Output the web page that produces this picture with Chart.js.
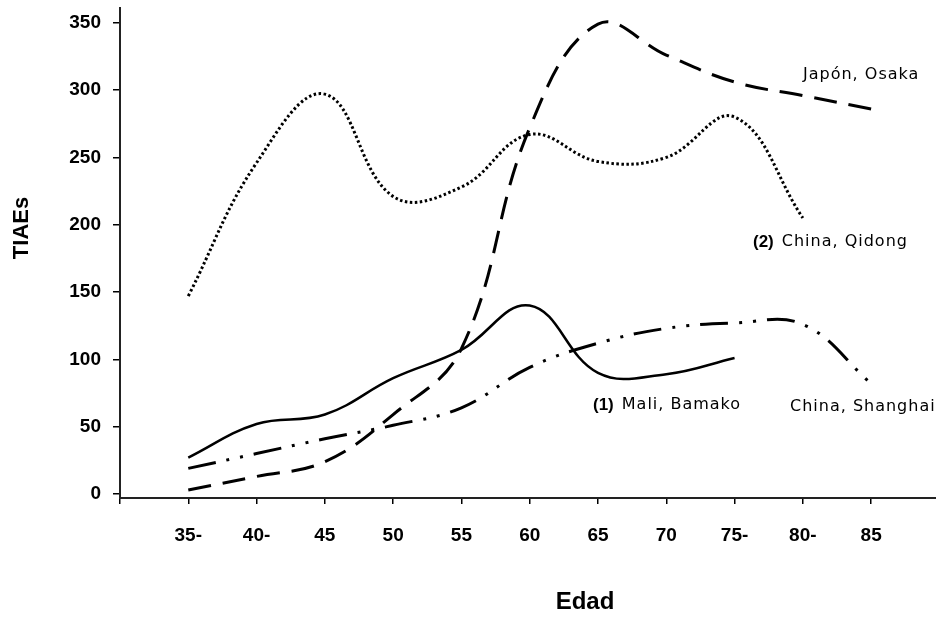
<!DOCTYPE html>
<html>
<head>
<meta charset="utf-8">
<script src="https://cdn.jsdelivr.net/npm/chart.js@4.4.0/dist/chart.umd.min.js"></script>
<style>
html, body { margin:0; padding:0; background:#fff; }
#wrap { position:relative; width:936px; height:619px; }
</style>
</head>
<body>
<div id="wrap"><canvas id="myChart"></canvas></div>
<script>
var ages = ["35-","40-","45","50","55","60","65","70","75-","80-","85"];
var mali = [27, 52, 59, 86, 107, 140, 90, 89, 101];
var osaka = [3, 13, 24, 59, 108, 272, 349, 326, 306, 296, 286];
var qidong = [147, 246, 297, 221, 228, 267, 247, 250, 280, 205];
var shanghai = [19, 30, 41, 51, 64, 94, 112, 123, 127, 126, 82];
var yTicks = [0, 50, 100, 150, 200, 250, 300, 350];

function pts(arr){
	return arr.map(function(v, i){ return {x: i + 1, y: v}; });
}

var fam = "'Liberation Sans', Arial, sans-serif";

function noPad(s){
	s.paddingTop = 0; s.paddingBottom = 0;
	s.paddingLeft = 0; s.paddingRight = 0;
}

// series names and axis titles written straight on the canvas
var notes = {
	id: 'notes',
	afterDraw: function(chart){
		var c = chart.ctx;
		c.save();
		c.fillStyle = '#000';
		c.textBaseline = 'middle';
		c.textAlign = 'left';
		function put(num, txt, x, y){
			if (num) {
				c.font = "bold 17px " + fam;
				c.fillText(num, x, y);
				x += c.measureText(num).width + 8;
			}
			c.font = "16px 'DejaVu Sans', sans-serif";
			try { c.letterSpacing = '1px'; } catch(e) {}
			c.fillText(txt, x, y);
			try { c.letterSpacing = '0px'; } catch(e) {}
		}
		put('', 'Japón, Osaka', 803, 75);
		put('(2)', 'China, Qidong', 753, 242);
		put('(1)', 'Mali, Bamako', 593, 405);
		put('', 'China, Shanghai', 790, 407);

		c.font = "bold 24px " + fam;
		c.textAlign = 'center';
		c.fillText('Edad', 585, 602);
		c.translate(22, 228);
		c.rotate(-Math.PI / 2);
		c.font = "bold 22px " + fam;
		c.fillText('TIAEs', 0, 0);
		c.restore();
	}
};

var ctx = document.getElementById('myChart').getContext('2d');
var statChart = new Chart(ctx, {
	type: 'line',
	data: {
		datasets: [
		{
			label: 'Mali, Bamako',
			data: pts(mali),
			borderColor: '#000',
			borderWidth: 2.5
		},
		{
			label: 'Japón, Osaka',
			data: pts(osaka),
			borderColor: '#000',
			borderWidth: 3,
			borderDash: [23, 12]
		},
		{
			label: 'China, Qidong',
			data: pts(qidong),
			borderColor: '#000',
			borderWidth: 3,
			borderDash: [2.5, 2.5]
		},
		{
			label: 'China, Shanghai',
			data: pts(shanghai),
			borderColor: '#000',
			borderWidth: 3,
			borderDash: [28, 11, 3, 11, 3, 11]
		}
		]
	},
	options: {
		responsive: true,
		maintainAspectRatio: false,
		animation: false,
		layout: { padding: { top: 8, left: 0, right: 0, bottom: 0 } },
		elements: {
			point: { radius: 0 },
			line: { tension: 0.4, fill: false, borderCapStyle: 'butt' }
		},
		plugins: {
			legend: { display: false },
			tooltip: { enabled: false }
		},
		scales: {
			x: {
				type: 'linear',
				min: 0,
				max: 11.95,
				afterBuildTicks: function(s){
					var t = [];
					for (var i = 0; i <= ages.length; i++) t.push({value: i});
					s.ticks = t;
				},
				afterFit: function(s){ s.height = 121; noPad(s); },
				grid: { drawOnChartArea: false, tickLength: 6, color: '#000', lineWidth: 1.5 },
				border: { color: '#222', width: 2 },
				ticks: {
					autoSkip: false,
					maxRotation: 0,
					padding: 20,
					color: '#000',
					font: { family: fam, size: 19, weight: 'bold' },
					callback: function(v){ return ages[v - 1] || ''; }
				}
			},
			y: {
				min: -3,
				max: 361,
				afterBuildTicks: function(s){
					s.ticks = yTicks.map(function(v){ return {value: v}; });
				},
				afterFit: function(s){ s.width = 120; noPad(s); },
				grid: { drawOnChartArea: false, tickLength: 7, color: '#000', lineWidth: 1.5 },
				border: { color: '#222', width: 2 },
				ticks: {
					padding: 12,
					color: '#000',
					font: { family: fam, size: 19, weight: 'bold' }
				}
			}
		}
	},
	plugins: [notes]
});
</script>
</body>
</html>
